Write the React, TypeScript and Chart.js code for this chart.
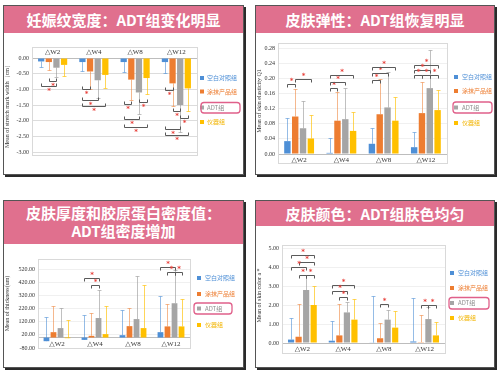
import React, { useEffect, useRef } from "react";
import { Chart, registerables } from "chart.js";
Chart.register(...registerables);

const CATEGORIES = ["△W2", "△W4", "△W8", "△W12"];
const SERIES = ["空白对照组", "涂抹产品组", "ADT组", "仪器组"];
const COLORS = ["#4E8FD6", "#ED7D31", "#A5A5A5", "#FFC000"];
const ERR_COLORS = ["rgba(78,143,214,0.6)", "rgba(237,125,49,0.55)", "rgba(150,150,150,0.6)", "rgba(255,192,0,0.65)"];
const TEXT_COLORS = ["#4E8FD6", "#ED7D31", "#8C8C8C", "#F2B400"];

// Panel 1: stretch mark width
const WIDTH_TICKS = [0, -0.5, -1, -1.5, -2, -2.5, -3];
const WIDTH_BLANK = [-0.11, -0.13, -0.13, -0.13];
const WIDTH_CREAM = [-0.13, -0.43, -0.69, -0.81];
const WIDTH_ADT = [-0.31, -0.71, -1.1, -1.5];
const WIDTH_DEVICE = [-0.22, -0.54, -0.64, -0.97];
const WIDTH_BLANK_SD = [0.18, 0.27, 0.32, 0.35];
const WIDTH_CREAM_SD = [0.24, 0.57, 0.65, 0.73];
const WIDTH_ADT_SD = [0.31, 0.56, 0.68, 0.85];
const WIDTH_DEVICE_SD = [0.36, 0.43, 0.52, 0.73];
const WIDTH_SIG = [
  [0, 0, 2, -0.89], [0, 1, 2, -0.73],
  [1, 0, 1, -1.0], [1, 0, 2, -1.35], [1, 0, 3, -1.54],
  [2, 0, 1, -1.48], [2, 2, 3, -1.41], [2, 0, 2, -1.95], [2, 0, 3, -2.21],
  [3, 0, 1, -1.02], [3, 1, 2, -1.7], [3, 2, 3, -1.9], [3, 0, 2, -2.26], [3, 0, 3, -2.46],
];

// Panel 2: skin elasticity
const ELAS_TICKS = [0, 0.04, 0.08, 0.12, 0.16, 0.2, 0.24, 0.28];
const ELAS_BLANK = [0.034, 0.003, 0.027, 0.018];
const ELAS_CREAM = [0.099, 0.088, 0.105, 0.108];
const ELAS_ADT = [0.068, 0.092, 0.123, 0.174];
const ELAS_DEVICE = [0.041, 0.061, 0.088, 0.116];
const ELAS_BLANK_SD = [0.062, 0.04, 0.041, 0.041];
const ELAS_CREAM_SD = [0.072, 0.075, 0.093, 0.081];
const ELAS_ADT_SD = [0.073, 0.082, 0.093, 0.102];
const ELAS_DEVICE_SD = [0.061, 0.051, 0.062, 0.052];
const ELAS_SIG = [
  [0, 0, 1, 0.185], [0, 1, 3, 0.199],
  [1, 0, 1, 0.174], [1, 0, 2, 0.19], [1, 0, 3, 0.209],
  [2, 0, 1, 0.195], [2, 0, 2, 0.214], [2, 0, 3, 0.231],
  [3, 0, 3, 0.236], [3, 0, 2, 0.223], [3, 0, 1, 0.209], [3, 1, 2, 0.209], [3, 2, 3, 0.209],
];

// Panel 3: thickness / collagen density
const THICK_TICKS = [520, 420, 320, 220, 120, 20, -80];
const THICK_BLANK = [-28, -18, 18, 41];
const THICK_CREAM = [41, 13, 87, 85];
const THICK_ADT = [72, 149, 141, 262];
const THICK_DEVICE = [-5, 26, 72, 85];
const THICK_BLANK_SD = [182, 192, 192, 274];
const THICK_CREAM_SD = [203, 174, 139, 169];
const THICK_ADT_SD = [154, 215, 328, 251];
const THICK_DEVICE_SD = [138, 212, 333, 210];
const THICK_SIG = [[1, 0, 2, 454], [1, 1, 2, 403], [3, 0, 2, 538], [3, 1, 2, 500], [3, 2, 3, 500]];

// Panel 4: skin color a*
const COLOR_TICKS = [0, 0.5, 1, 1.5, 2, 2.5, 3, 3.5, 4, 4.5, 5];
const COLOR_BLANK = [0.18, 0.12, 0.02, 0.08];
const COLOR_CREAM = [0.33, 0.4, 0.25, 0.04];
const COLOR_ADT = [2.79, 1.61, 1.23, 1.26];
const COLOR_DEVICE = [2.0, 1.23, 0.81, 0.4];
const COLOR_BLANK_SD = [1.12, 1.06, 2.44, 2.27];
const COLOR_CREAM_SD = [1.74, 1.67, 0.79, 1.45];
const COLOR_ADT_SD = [0.81, 0.57, 0.52, 0.64];
const COLOR_DEVICE_SD = [1.0, 1.09, 0.86, 0.72];
const COLOR_SIG = [
  [0, 0, 3, 4.65], [0, 1, 3, 4.28], [0, 0, 2, 3.98], [0, 1, 2, 3.6], [0, 2, 3, 3.6],
  [1, 0, 3, 3.03], [1, 0, 2, 2.72], [1, 1, 2, 2.4],
  [2, 1, 2, 2.03],
  [3, 1, 2, 2.0], [3, 2, 3, 2.0],
];

const PINK = "#E0708E";
const SERIF = '"Liberation Serif", "DejaVu Serif", serif';
const SANS = '"Noto Sans CJK SC", "Noto Sans", sans-serif';

type Spec = {
  title: string[];
  card: { x: number; y: number; w: number; h: number };
  headerH: number;
  canvas: { x: number; y: number; w: number; h: number };
  area: { l: number; t: number; r: number; b: number };
  frame: [number, number];
  xPos: "top" | "bottom" | "zero";
  xAxisH: number;
  yTitle: string;
  ticks: number[];
  min: number;
  max: number;
  values: number[][];
  sds: number[][];
  errDir: number;
  sig: number[][];
  grid: string;
  legend: { mx: number; tx: number; ys: number[]; box: [number, number, number, number] };
};

const SPECS: Spec[] = [
  {
    title: ["妊娠纹宽度：ADT组变化明显"],
    card: { x: 3, y: 5, w: 241, h: 170 }, headerH: 27,
    canvas: { x: 4, y: 33, w: 239, h: 141 },
    area: { l: 32, t: 58, r: 197, b: 152 }, frame: [11, 3],
    xPos: "top", xAxisH: 11,
    yTitle: "Mean of stretch mark width（cm）",
    ticks: WIDTH_TICKS, min: -3, max: 0,
    values: [WIDTH_BLANK, WIDTH_CREAM, WIDTH_ADT, WIDTH_DEVICE],
    sds: [WIDTH_BLANK_SD, WIDTH_CREAM_SD, WIDTH_ADT_SD, WIDTH_DEVICE_SD],
    errDir: -1, sig: WIDTH_SIG, grid: "#dcdcdc",
    legend: { mx: 202, tx: 207, ys: [78, 91.5, 107.5, 122], box: [201, 102.5, 240, 113] },
  },
  {
    title: ["皮肤弹性：ADT组恢复明显"],
    card: { x: 255, y: 5, w: 240, h: 170 }, headerH: 27,
    canvas: { x: 256, y: 33, w: 238, h: 141 },
    area: { l: 278, t: 48, r: 447, b: 154 }, frame: [5, 9],
    xPos: "bottom", xAxisH: 12,
    yTitle: "Mean of skin elasticity Q1",
    ticks: ELAS_TICKS, min: 0, max: 0.28,
    values: [ELAS_BLANK, ELAS_CREAM, ELAS_ADT, ELAS_DEVICE],
    sds: [ELAS_BLANK_SD, ELAS_CREAM_SD, ELAS_ADT_SD, ELAS_DEVICE_SD],
    errDir: 1, sig: ELAS_SIG, grid: "#f0f0f0",
    legend: { mx: 456, tx: 462, ys: [77, 91, 107.5, 123], box: [453, 102, 492, 113] },
  },
  {
    title: ["皮肤厚度和胶原蛋白密度值：", "ADT组密度增加"],
    card: { x: 3, y: 200, w: 241, h: 168 }, headerH: 43,
    canvas: { x: 4, y: 244, w: 239, h: 123 },
    area: { l: 38, t: 259, r: 190, b: 348 }, frame: [0, 0],
    xPos: "zero", xAxisH: 0,
    yTitle: "Mean of thickness(um)",
    ticks: THICK_TICKS, min: -80, max: 600,
    values: [THICK_BLANK, THICK_CREAM, THICK_ADT, THICK_DEVICE],
    sds: [THICK_BLANK_SD, THICK_CREAM_SD, THICK_ADT_SD, THICK_DEVICE_SD],
    errDir: 1, sig: THICK_SIG, grid: "#f0f0f0",
    legend: { mx: 199, tx: 205, ys: [278, 294, 308.5, 325], box: [194, 303, 232, 314] },
  },
  {
    title: ["皮肤颜色：ADT组肤色均匀"],
    card: { x: 255, y: 200, w: 240, h: 168 }, headerH: 25,
    canvas: { x: 256, y: 226, w: 238, h: 141 },
    area: { l: 282, t: 248, r: 445, b: 343 }, frame: [3, 10],
    xPos: "bottom", xAxisH: 12,
    yTitle: "Mean of skin color a *",
    ticks: COLOR_TICKS, min: 0, max: 5,
    values: [COLOR_BLANK, COLOR_CREAM, COLOR_ADT, COLOR_DEVICE],
    sds: [COLOR_BLANK_SD, COLOR_CREAM_SD, COLOR_ADT_SD, COLOR_DEVICE_SD],
    errDir: 1, sig: COLOR_SIG, grid: "#f0f0f0",
    legend: { mx: 452, tx: 458, ys: [273, 288, 303, 318], box: [449, 297.5, 489, 309] },
  },
];

function Panel({ s }: { s: Spec }) {
  const ref = useRef<HTMLCanvasElement>(null);
  useEffect(() => {
    const cv = s.canvas;
    const endDy = s.errDir === 1 ? 3 : -3;
    const starDy = s.errDir === 1 ? -3 : 5;
    const plugin = {
      id: "extras",
      beforeDatasetsDraw(chart: any) {
        const { ctx, chartArea: a } = chart;
        ctx.save();
        ctx.strokeStyle = "#d9d9d9";
        ctx.lineWidth = 1;
        ctx.strokeRect(
          Math.round(a.left) + 0.5,
          Math.round(a.top - s.frame[0]) + 0.5,
          Math.round(a.right - a.left),
          Math.round(a.bottom - a.top + s.frame[0] + s.frame[1])
        );
        ctx.restore();
      },
      afterDatasetsDraw(chart: any) {
        const { ctx } = chart;
        const ys = chart.scales.y;
        ctx.save();
        chart.data.datasets.forEach((ds: any, i: number) => {
          const meta = chart.getDatasetMeta(i);
          meta.data.forEach((bar: any, j: number) => {
            const v = ds.data[j];
            const end = v + s.errDir * s.sds[i][j];
            const x = Math.round(bar.x) + 0.5;
            const y0 = ys.getPixelForValue(v);
            const y1 = Math.round(ys.getPixelForValue(end)) + 0.5;
            ctx.strokeStyle = ERR_COLORS[i];
            ctx.lineWidth = 1;
            ctx.beginPath();
            ctx.moveTo(x, y0);
            ctx.lineTo(x, y1);
            ctx.moveTo(x - 2, y1);
            ctx.lineTo(x + 2, y1);
            ctx.stroke();
          });
        });
        s.sig.forEach(([cat, a, b, v]) => {
          const xa = Math.round(chart.getDatasetMeta(a).data[cat].x) + 0.5;
          const xb = Math.round(chart.getDatasetMeta(b).data[cat].x) + 0.5;
          const y = Math.round(ys.getPixelForValue(v)) + 0.5;
          ctx.strokeStyle = "#5a5a5a";
          ctx.lineWidth = 1;
          ctx.beginPath();
          ctx.moveTo(xa, y + endDy);
          ctx.lineTo(xa, y);
          ctx.lineTo(xb, y);
          ctx.lineTo(xb, y + endDy);
          ctx.stroke();
          ctx.fillStyle = "#E8403A";
          ctx.font = 'bold 7px "DejaVu Sans"';
          ctx.textAlign = "center";
          ctx.textBaseline = "middle";
          ctx.fillText("*", (xa + xb) / 2, y + starDy);
        });
        // legend
        const lg = s.legend;
        ctx.font = `6px ${SANS}`;
        ctx.textAlign = "left";
        ctx.textBaseline = "middle";
        chart.data.datasets.forEach((ds: any, i: number) => {
          const y = lg.ys[i] - cv.y;
          ctx.fillStyle = ds.backgroundColor;
          ctx.fillRect(lg.mx - cv.x - 2, y - 2, 4, 4);
          ctx.fillStyle = TEXT_COLORS[i];
          ctx.fillText(ds.label, lg.tx - cv.x, y);
        });
        const [bx1, by1, bx2, by2] = lg.box;
        ctx.strokeStyle = "#E0608A";
        ctx.lineWidth = 1.3;
        ctx.beginPath();
        (ctx as any).roundRect(bx1 - cv.x, by1 - cv.y, bx2 - bx1, by2 - by1, 3);
        ctx.stroke();
        ctx.restore();
      },
    };

    const padTop =
      s.xPos === "top" ? s.area.t - cv.y - s.xAxisH : s.area.t - cv.y;
    const padBottom =
      s.xPos === "bottom"
        ? cv.y + cv.h - s.area.b - s.xAxisH
        : cv.y + cv.h - s.area.b;

    const chart = new Chart(ref.current!, {
      type: "bar",
      data: {
        labels: CATEGORIES,
        datasets: SERIES.map((name, i) => ({
          label: name,
          data: s.values[i],
          backgroundColor: COLORS[i],
          borderWidth: 0,
          categoryPercentage: 0.74,
          barPercentage: 0.82,
        })),
      },
      options: {
        responsive: false,
        animation: false,
        devicePixelRatio: 1,
        layout: {
          padding: { left: 0, right: cv.x + cv.w - s.area.r, top: padTop, bottom: padBottom },
        },
        plugins: { legend: { display: false }, tooltip: { enabled: false } },
        scales: {
          x: {
            position: (s.xPos === "zero" ? { y: 0 } : s.xPos) as any,
            grid: { display: false, drawTicks: false },
            border: { display: true, color: "#bdbdbd" },
            ticks: {
              font: { family: SERIF, size: 7 },
              color: "#333",
              padding: 2,
              maxRotation: 0,
              autoSkip: false,
            },
            afterFit: (sc: any) => {
              if (s.xPos !== "zero") sc.height = s.xAxisH;
            },
          },
          y: {
            min: s.min,
            max: s.max,
            afterBuildTicks: (sc: any) => {
              sc.ticks = s.ticks.map((v) => ({ value: v }));
            },
            afterFit: (sc: any) => {
              sc.width = s.area.l - cv.x;
            },
            ticks: {
              font: { family: SERIF, size: 6 },
              color: "#333",
              padding: 3,
              callback: (v: any) => Number(v).toFixed(2),
            },
            grid: { color: s.grid, drawTicks: false },
            border: { display: false },
            title: {
              display: true,
              text: s.yTitle,
              font: { family: SERIF, size: 6 },
              color: "#333",
              padding: 0,
            },
          },
        },
      },
      plugins: [plugin],
    } as any);
    return () => chart.destroy();
  }, [s]);

  return (
    <>
      <div
        style={{
          position: "absolute",
          left: s.card.x,
          top: s.card.y,
          width: s.card.w,
          height: s.card.h,
          boxSizing: "border-box",
          background: "#fff",
          border: "1px solid #555",
          boxShadow: "2px 2px 0 #2a2a2a",
        }}
      >
        <div
          style={{
            height: s.headerH,
            background: PINK,
            color: "#fff",
            fontFamily: SANS,
            fontWeight: 700,
            fontSize: 15,
            lineHeight: s.title.length > 1 ? "18px" : `${s.headerH}px`,
            textAlign: "center",
            paddingTop: s.title.length > 1 ? 3 : 0,
            boxSizing: "border-box",
            whiteSpace: "nowrap",
          }}
        >
          {s.title.map((t, i) => (
            <div key={i}>{t}</div>
          ))}
        </div>
      </div>
      <canvas
        ref={ref}
        width={s.canvas.w}
        height={s.canvas.h}
        style={{
          position: "absolute",
          left: s.canvas.x,
          top: s.canvas.y,
          width: s.canvas.w,
          height: s.canvas.h,
        }}
      />
    </>
  );
}

export default function App() {
  return (
    <div
      style={{
        position: "absolute",
        left: 0,
        top: 0,
        width: 500,
        height: 375,
        background: "#fff",
        overflow: "hidden",
      }}
    >
      {SPECS.map((s, i) => (
        <Panel key={i} s={s} />
      ))}
    </div>
  );
}
